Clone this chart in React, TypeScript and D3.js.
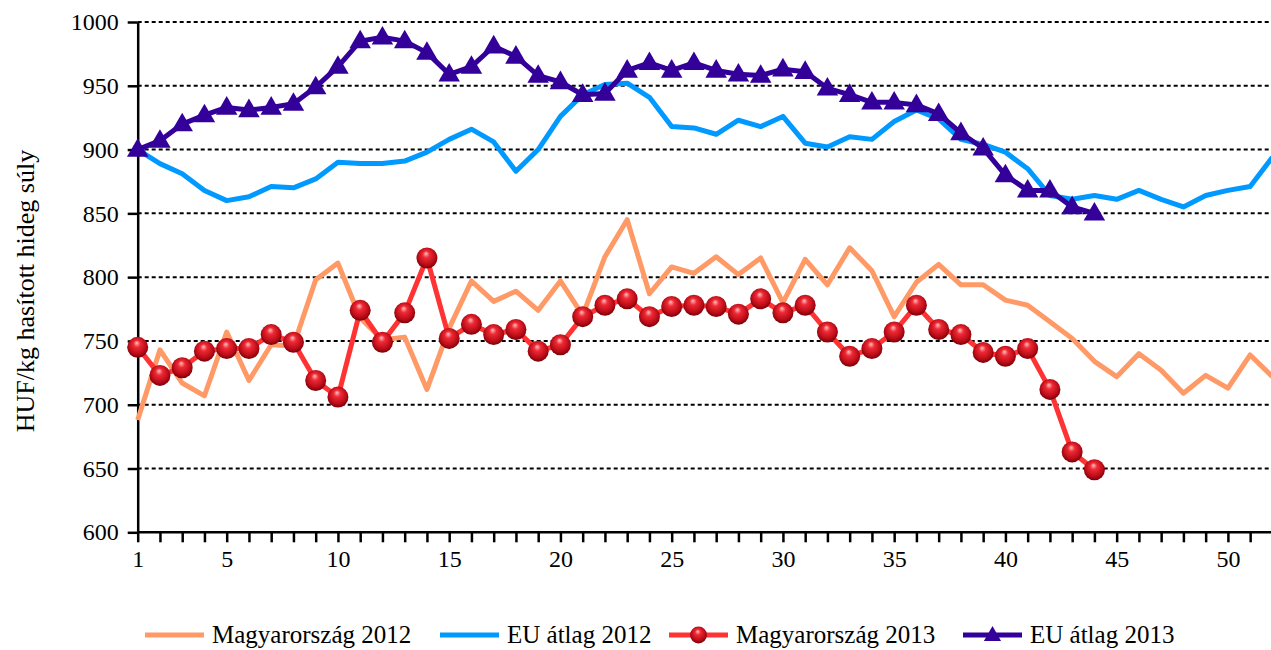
import React, { useEffect, useRef } from "react";
import * as d3 from "d3";

// heti árak, HUF/kg hasított hideg súly
const xTickLabels = [1, 5, 10, 15, 20, 25, 30, 35, 40, 45, 50];
const yTicks = [600, 650, 700, 750, 800, 850, 900, 950, 1000];
const weekCount = 52;

const huf2012 = [
  688, 743, 717, 707, 757, 719, 747, 746, 798, 811, 768, 751, 753, 712, 760, 797, 781, 789, 774, 797,
  770, 816, 845, 787, 808, 803, 816, 802, 815, 780, 814, 794, 823, 805, 769, 796, 810, 794, 794, 782,
  778, 765, 752, 734, 722, 740, 727, 709, 723, 713, 739, 722,
];
const eu2012 = [
  900, 889, 881, 868, 860, 863, 871, 870, 877, 890, 889, 889, 891, 898, 908, 916, 906, 883, 900, 926,
  943, 951, 952, 941, 918, 917, 912, 923, 918, 926, 905, 902, 910, 908, 922, 931, 924, 908, 904, 898,
  885, 864, 861, 864, 861, 868, 861, 855, 864, 868, 871, 894,
];
const huf2013 = [
  745, 723, 729, 742, 744, 744, 755, 749, 719, 706, 774, 749, 772, 815, 752, 763, 755, 759, 742, 747,
  769, 778, 783, 769, 777, 778, 777, 771, 783, 772, 778, 757, 738, 744, 757, 778, 759, 755, 741, 738,
  744, 712, 663, 649,
];
const eu2013 = [
  900, 907, 920, 927, 933, 931, 933, 936, 949, 965, 985, 988, 985, 976, 959, 965, 981, 973, 958, 953,
  943, 944, 962, 968, 962, 968, 962, 959, 958, 963, 961, 948, 943, 937, 937, 935, 928, 913, 901, 880,
  868, 868, 855, 850,
];

const seriesNames = ["Magyarország 2012", "EU átlag 2012", "Magyarország 2013", "EU átlag 2013"];
const seriesData = [huf2012, eu2012, huf2013, eu2013];
const seriesColors = ["#FF9966", "#0099FF", "#FF3333", "#330099"];
const seriesMarkers = ["none", "none", "ball", "triangle"];

const W = 1271;
const H = 650;
const FONT = "'Liberation Serif', 'Times New Roman', serif";
const legendStarts = [145, 440, 669, 963];

export default function App() {
  const svgRef = useRef<SVGSVGElement>(null);

  useEffect(() => {
    const svg = d3.select(svgRef.current);
    svg.selectAll("*").remove();

    const x = d3.scaleLinear().domain([1, weekCount]).range([137.7, 1272.4]);
    const y = d3.scaleLinear().domain([600, 1000]).range([532.3, 22]);
    const left = x(1);

    const defs = svg.append("defs");
    const grad = defs.append("radialGradient")
      .attr("id", "ball")
      .attr("cx", "50%").attr("cy", "45%").attr("r", "55%")
      .attr("fx", "45%").attr("fy", "28%");
    grad.append("stop").attr("offset", "0%").attr("stop-color", "#ffc0c0");
    grad.append("stop").attr("offset", "30%").attr("stop-color", "#ee2a34");
    grad.append("stop").attr("offset", "75%").attr("stop-color", "#bb0c18");
    grad.append("stop").attr("offset", "100%").attr("stop-color", "#780008");

    // gridlines
    svg.append("g")
      .selectAll("line")
      .data(yTicks.filter(d => d > 600))
      .join("line")
      .attr("x1", left)
      .attr("x2", W)
      .attr("y1", d => y(d))
      .attr("y2", d => y(d))
      .attr("stroke", "#000")
      .attr("stroke-width", 2)
      .attr("stroke-dasharray", "4,3");

    // y axis
    const yAxis = svg.append("g")
      .attr("transform", `translate(${left},0)`)
      .call(d3.axisLeft(y).tickValues(yTicks).tickFormat(d => String(d))
        .tickSize(10).tickSizeOuter(0).tickPadding(9));
    yAxis.attr("font-family", null).attr("font-size", null);
    yAxis.select(".domain").attr("stroke", "#000").attr("stroke-width", 2.5);
    yAxis.selectAll(".tick line").attr("stroke", "#000").attr("stroke-width", 2.5);
    yAxis.selectAll("text")
      .style("font-family", FONT)
      .style("font-size", "24px")
      .attr("fill", "#000");

    // x axis
    const xAxis = svg.append("g")
      .attr("transform", `translate(0,${y(600)})`)
      .call(d3.axisBottom(x).tickValues(d3.range(1, weekCount + 1)).tickSize(10).tickSizeOuter(0)
        .tickFormat(d => (xTickLabels.includes(d as number) ? String(d) : "")).tickPadding(8));
    xAxis.attr("font-family", null).attr("font-size", null);
    xAxis.select(".domain").attr("stroke", "#000").attr("stroke-width", 2.5)
      .attr("d", `M${left},0H${W}`);
    xAxis.selectAll(".tick line").attr("stroke", "#000").attr("stroke-width", 2.5);
    xAxis.selectAll("text")
      .style("font-family", FONT)
      .style("font-size", "24px")
      .attr("fill", "#000");

    // y label
    svg.append("text")
      .attr("transform", `translate(25,291) rotate(-90)`)
      .attr("text-anchor", "middle")
      .attr("dominant-baseline", "central")
      .style("font-family", FONT)
      .style("font-size", "26px")
      .text("HUF/kg hasított hideg súly");

    const line = d3.line<number>()
      .x((d, i) => x(i + 1))
      .y(d => y(d));

    const drawMarker = (g: any, kind: string, color: string, scale: number) => {
      if (kind === "ball") {
        g.append("circle").attr("r", 10.5 * scale).attr("fill", "url(#ball)");
      } else if (kind === "triangle") {
        g.append("path")
          .attr("d", d3.symbol().type(d3.symbolTriangle).size(200 * scale * scale)())
          .attr("fill", color)
          .attr("transform", "translate(0,1)");
      }
    };

    seriesData.forEach((data, s) => {
      const g = svg.append("g");
      g.append("path")
        .datum(data)
        .attr("d", line)
        .attr("fill", "none")
        .attr("stroke", seriesColors[s])
        .attr("stroke-width", 5)
        .attr("stroke-linejoin", "round");

      if (seriesMarkers[s] !== "none") {
        data.forEach((v, i) => {
          const m = g.append("g").attr("transform", `translate(${x(i + 1)},${y(v)})`);
          drawMarker(m, seriesMarkers[s], seriesColors[s], 1);
        });
      }
    });

    // legend
    const legend = svg.append("g").attr("transform", "translate(0,635)");
    seriesNames.forEach((name, s) => {
      const item = legend.append("g").attr("transform", `translate(${legendStarts[s]},0)`);
      item.append("line")
        .attr("x1", 0).attr("x2", 59)
        .attr("stroke", seriesColors[s])
        .attr("stroke-width", 5);
      if (seriesMarkers[s] !== "none") {
        const m = item.append("g").attr("transform", "translate(29.5,0)");
        drawMarker(m, seriesMarkers[s], seriesColors[s], 0.8);
      }
      item.append("text")
        .attr("x", 67)
        .attr("y", 7.5)
        .style("font-family", FONT)
        .style("font-size", "25px")
        .text(name);
    });
  }, []);

  return (
    <svg
      ref={svgRef}
      width={W}
      height={H}
      style={{ position: "absolute", left: 0, top: 0, background: "#fff" }}
    />
  );
}
